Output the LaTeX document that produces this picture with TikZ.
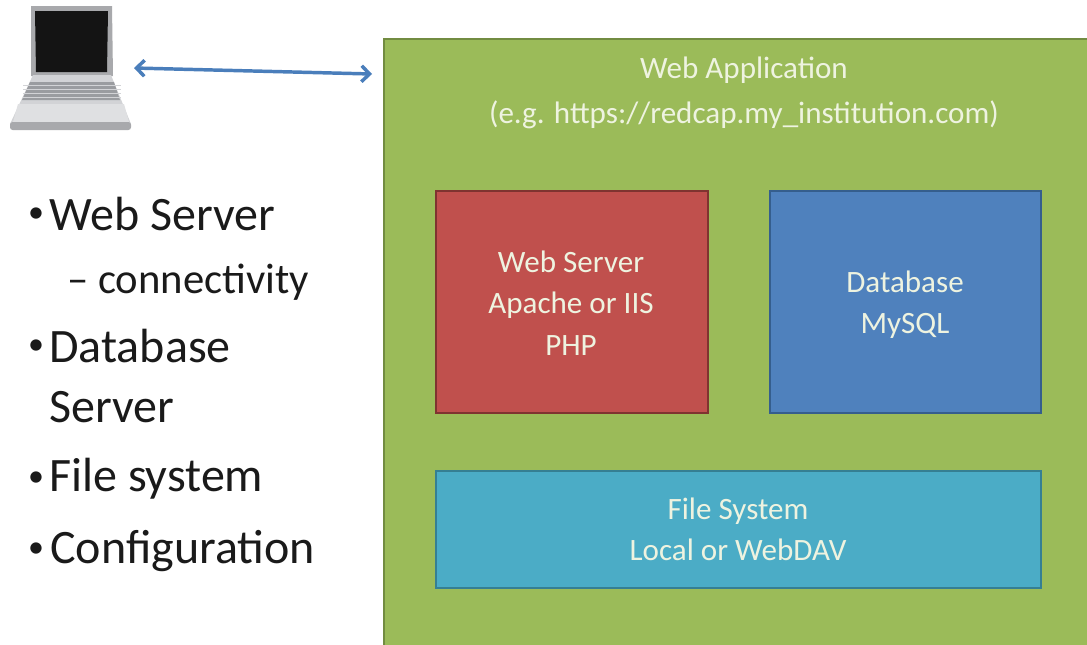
\documentclass[tikz,border=0pt]{standalone}
\usepackage{fontspec}
\setmainfont{Carlito}
\usetikzlibrary{arrows.meta}
\definecolor{appgreen}{HTML}{9BBB59}
\definecolor{appgreenD}{HTML}{728C41}
\definecolor{srvred}{HTML}{C0504D}
\definecolor{srvredD}{HTML}{7F3330}
\definecolor{dbblue}{HTML}{4F81BD}
\definecolor{dbblueD}{HTML}{355E8D}
\definecolor{fsteal}{HTML}{4BACC6}
\definecolor{fstealD}{HTML}{357F93}
\definecolor{txtlight}{HTML}{EEF3E0}
\definecolor{ink}{HTML}{1A1A1A}
\definecolor{lapgrey}{HTML}{D2D3D6}
\definecolor{lapgreyD}{HTML}{A8A9AC}
\definecolor{lapkey}{HTML}{9A9CA0}
\definecolor{arrowblue}{HTML}{4A7EBB}
\tikzset{
  x=0.75pt,y=-0.75pt,
  panel/.style={draw=#1,line width=1.6pt,inner sep=0pt,anchor=north west},
  boxtext/.style={text=txtlight,align=center,font=\fontsize{23.3}{31}\selectfont},
  titletext/.style={text=txtlight,align=center,font=\fontsize{23.3}{33.5}\selectfont},
  bullet/.style={text=ink,anchor=west,inner sep=0pt,font=\fontsize{36}{43}\selectfont},
  subbullet/.style={text=ink,anchor=west,inner sep=0pt,font=\fontsize{32}{38}\selectfont},
  dot/.style={text=ink,anchor=center,inner sep=0pt,font=\fontsize{24}{24}\selectfont},
  link/.style={draw=arrowblue,line width=2.6pt,{Straight Barb[length=6pt,width=12pt]}-{Straight Barb[length=6pt,width=12pt]}}
}
\begin{document}
\begin{tikzpicture}
\useasboundingbox (0,0) rectangle (1087,644);
\fill[white] (0,0) rectangle (1087,644);
% laptop
\fill[lapgreyD] (31,6) -- (112,6) -- (113,76) -- (31,76) -- cycle;
\fill[black!92] (35,11) -- (108,11) -- (107,72) -- (36,72) -- cycle;
\fill[lapgrey] (33,75) -- (111,75) -- (131,124) -- (10,124) -- cycle;
\fill[lapkey] (30,82) -- (114,82) -- (120,100) -- (22,100) -- cycle;
\foreach \yy in {85,89,93,97}{\draw[lapgrey,line width=.6pt] (23,\yy) -- (121,\yy);}
\fill[lapgrey!70!white] (18,104) -- (124,104) -- (129,122) -- (13,122) -- cycle;
\fill[lapgreyD,rounded corners=2pt] (10,122) rectangle (131,130);
\coordinate (lapright) at (134,68);
% panels
\node[panel=appgreenD,fill=appgreen,minimum width=706*0.75pt,minimum height=608*0.75pt] (app) at (383,38) {};
\node[panel=srvredD,fill=srvred,minimum width=272*0.75pt,minimum height=222*0.75pt] (web) at (435,190) {};
\node[panel=dbblueD,fill=dbblue,minimum width=271*0.75pt,minimum height=222*0.75pt] (db) at (769,190) {};
\node[panel=fstealD,fill=fsteal,minimum width=605*0.75pt,minimum height=117*0.75pt] (fs) at (435,470) {};
\coordinate (appleft) at (372,74);
\draw[link] (lapright) -- (appleft);
% labels
\node[titletext] (apptitle) at (744,93) {Web Application\\(e.g. https://redcap.my\_institution.com)};
\node[boxtext] (webtxt) at (571,303) {Web Server\\Apache or IIS\\PHP};
\node[boxtext] (dbtxt) at (905,305) {Database\\MySQL};
\node[boxtext] (fstxt) at (738,529) {File System\\Local or WebDAV};
% bullet list
\node[dot] (d1) at (36,215) {•};
\node[bullet] (b1) at (49,214) {Web Server};
\node[subbullet] (b1s) at (67,282) {– connectivity};
\node[dot] (d2) at (36,347) {•};
\node[bullet] (b2) at (49,346) {Database};
\node[bullet] (b2b) at (49,407) {Server};
\node[dot] (d3) at (36,479) {•};
\node[bullet] (b3) at (49,479) {File system};
\node[dot] (d4) at (36,550) {•};
\node[bullet] (b4) at (50,551) {Configuration};
\end{tikzpicture}
\end{document}
